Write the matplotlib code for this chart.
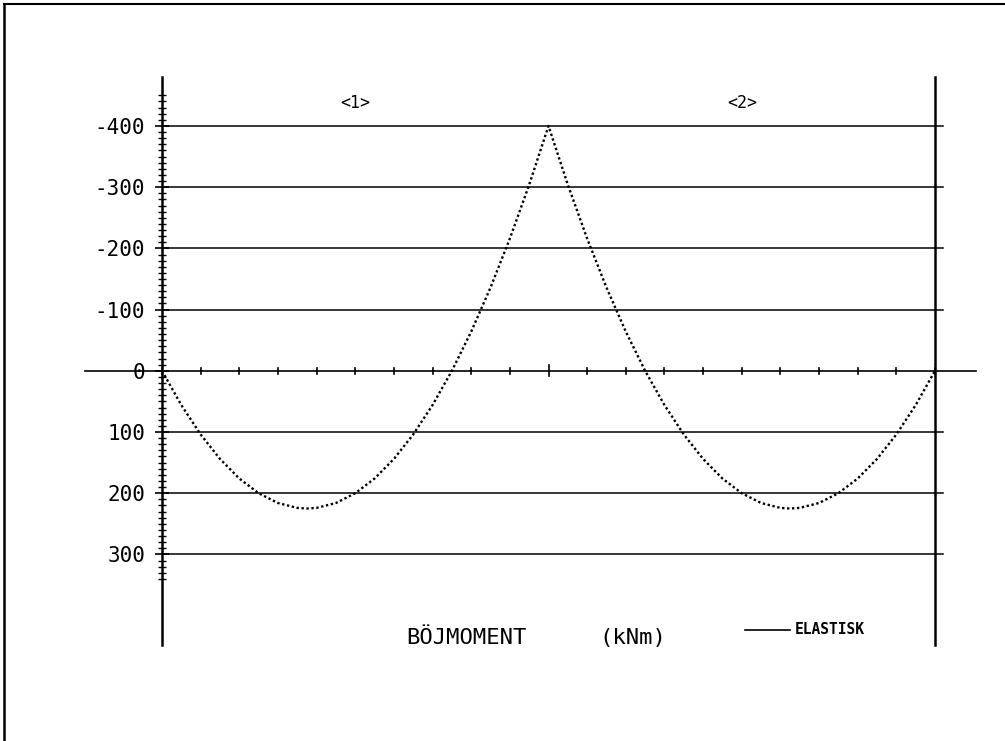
import matplotlib.pyplot as plt
from matplotlib.lines import Line2D

# Bending moment along a two-span beam (kNm), positive = sagging (drawn down)
x_pos = [0, 0.5, 1, 1.5, 2, 2.5, 3, 3.5, 3.75, 4, 4.5, 5, 5.5, 6, 6.5, 7, 7.5,
         8, 8.5, 9, 9.5, 10,
         10.5, 11, 11.5, 12, 12.5, 13, 13.5, 14, 14.5, 15, 15.5, 16, 16.25,
         16.5, 17, 17.5, 18, 18.5, 19, 19.5, 20]
moment = [0, 56, 104, 144, 176, 200, 216, 224, 225, 224, 216, 200, 176, 144, 104, 56, 0,
          -64, -136, -216, -304, -400,
          -304, -216, -136, -64, 0, 56, 104, 144, 176, 200, 216, 224, 225,
          224, 216, 200, 176, 144, 104, 56, 0]

grid_levels = [-400, -300, -200, -100, 0, 100, 200, 300]
grid_labels = ["-400", "-300", "-200", "-100", "0", "100", "200", "300"]
span_labels = ["<1>", "<2>"]
span_centers = [5, 15]
x_ticks = list(range(0, 21))

mono = "DejaVu Sans Mono"

fig = plt.figure(figsize=(10.05, 7.41), dpi=100)
ax = fig.add_axes([162 / 1005, 1 - 645 / 741, (935 - 162) / 1005, (645 - 77) / 741])

ax.set_xlim(0, 20)
ax.set_ylim(448, -480)

# horizontal grid lines
for lev in grid_levels:
    if lev != 0:
        ax.plot([0, 20.2], [lev, lev], color="black", lw=1.1, clip_on=False)
# zero line extending beyond the frame
ax.plot([-2.0, 21.05], [0, 0], color="black", lw=1.2, clip_on=False)

# ticks on the zero line
for xt in x_ticks:
    h = 9 if xt == 10 else 5
    ax.plot([xt, xt], [-h, h], color="black", lw=1.2, clip_on=False)

# moment curve
ax.plot(x_pos, moment, color="black", lw=1.7, linestyle=(0, (1, 1.1)))

# spines
for s in ["top", "bottom"]:
    ax.spines[s].set_visible(False)
ax.spines["left"].set_linewidth(1.8)
ax.spines["right"].set_linewidth(1.8)

ax.set_xticks([])
ax.set_yticks(grid_levels)
ax.set_yticklabels(grid_labels, fontfamily=mono, fontsize=15)
ax.set_yticks(range(-450, 350, 10), minor=True)
ax.tick_params(axis="y", which="major", direction="inout", length=10, width=1.2, pad=7)
ax.tick_params(axis="y", which="minor", direction="inout", length=6, width=1.0)

for lab, xc in zip(span_labels, span_centers):
    ax.text(xc, -437, lab, ha="center", va="center", fontfamily=mono, fontsize=12)

# bottom texts
fig.text(466 / 1005, 1 - 638 / 741, "BÖJMOMENT", ha="center", va="center",
         fontfamily=mono, fontsize=16)
fig.text(633 / 1005, 1 - 638 / 741, "(kNm)", ha="center", va="center",
         fontfamily=mono, fontsize=16)
fig.add_artist(Line2D([745 / 1005, 790 / 1005], [1 - 630 / 741, 1 - 630 / 741],
                      color="black", lw=1.2))
fig.text(795 / 1005, 1 - 630 / 741, "ELASTISK", ha="left", va="center",
         fontfamily=mono, fontsize=10.5, fontweight="bold")

# outer frame (left and top edges of the sheet)
fig.add_artist(Line2D([4 / 1005, 4 / 1005], [0, 1 - 5 / 741], color="black", lw=1.8))
fig.add_artist(Line2D([4 / 1005, 1], [1 - 4 / 741, 1 - 4 / 741], color="black", lw=1.5))

fig.savefig("out.png", dpi=100)
